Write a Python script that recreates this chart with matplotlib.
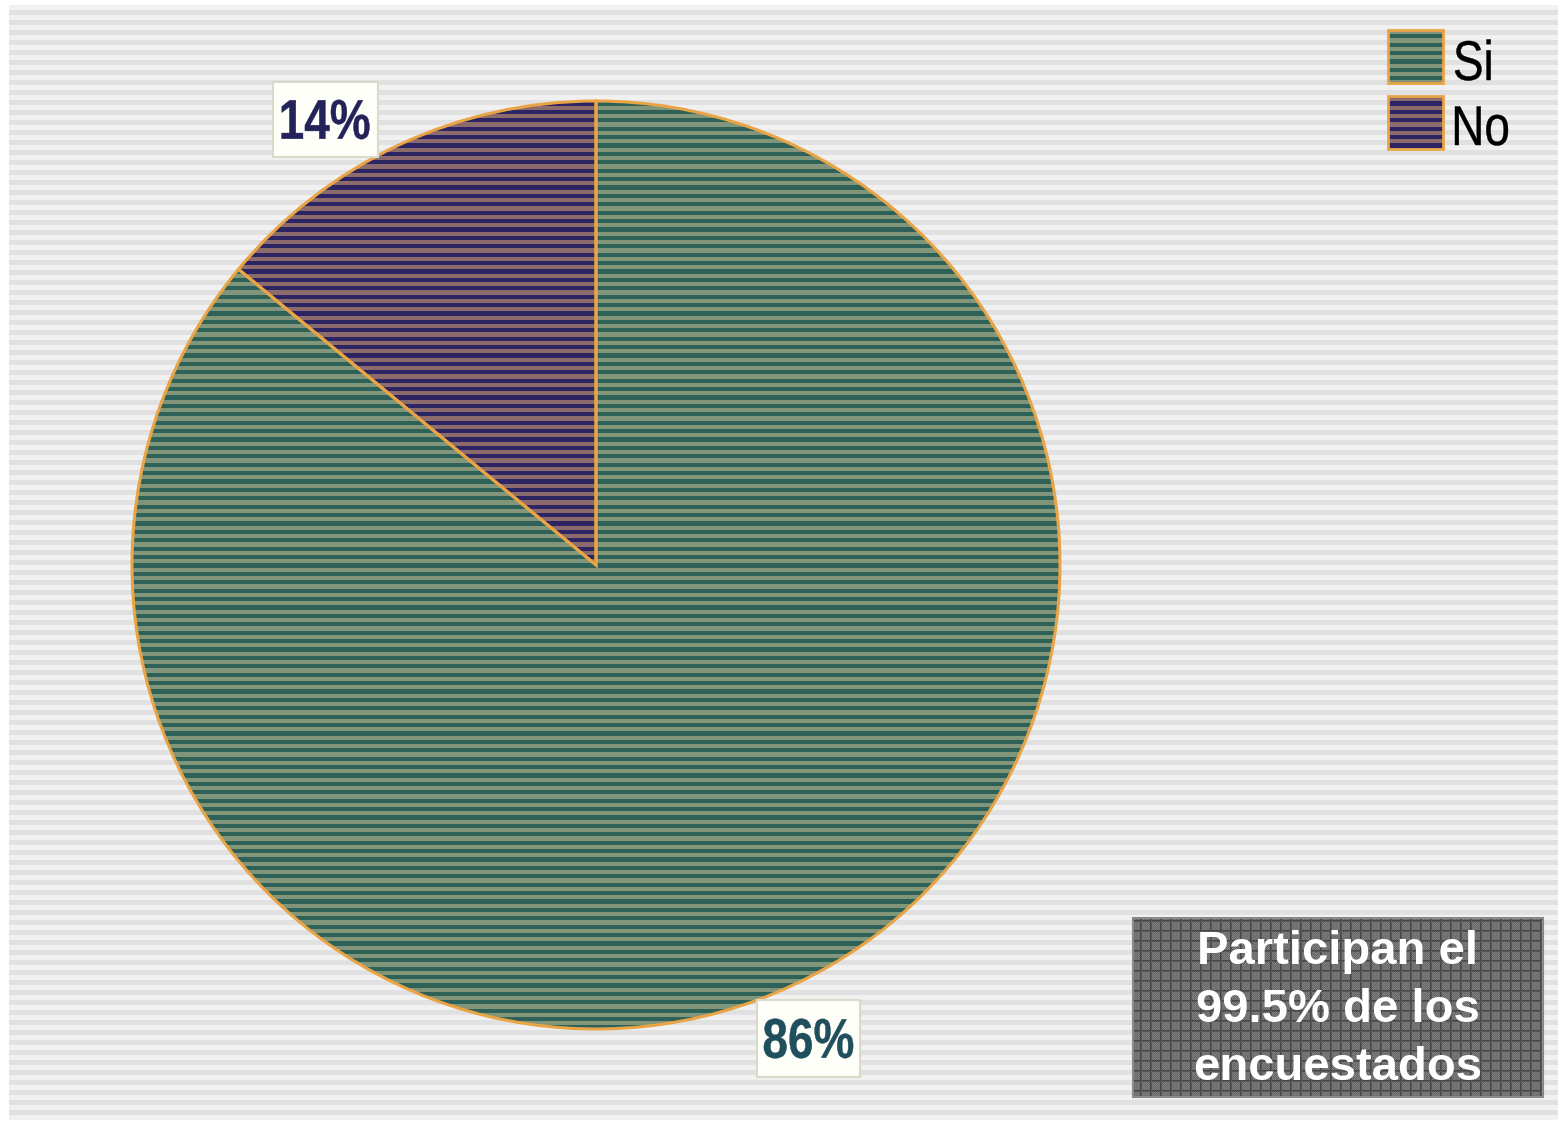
import numpy as np
import matplotlib
matplotlib.use('Agg')
from matplotlib import pyplot as plt
from matplotlib.patches import Rectangle, PathPatch
from matplotlib.textpath import TextPath
from matplotlib.font_manager import FontProperties
from matplotlib.transforms import Affine2D

categorias = ['Si', 'No']
porcentajes = [86, 14]
nota = 'Participan el\n99.5% de los\nencuestados'

W, H = 1558, 1125
borde = '#E9A446'
rayas = {
    'Si': ('#2E6157', '#81957A'),
    'No': ('#2C2463', '#8C6B6C'),
}
color_pct = {'Si': '#1F4E5C', 'No': '#23235A'}


def striped(dark, light, period, height=H):
    # one colour per pixel row, alternating in bands of half a period
    rows = np.arange(height)
    band = (rows % period) < period / 2.0
    img = np.empty((height, 1, 3))
    img[band] = matplotlib.colors.to_rgb(dark)
    img[~band] = matplotlib.colors.to_rgb(light)
    return img


def paint(ax, patch, img, zorder):
    im = ax.imshow(img, extent=(0, W, 0, H), origin='upper', aspect='auto',
                   interpolation='nearest', zorder=zorder)
    im.set_clip_path(patch)
    return im


def narrow_text(ax, x, y, s, size, color, weight='normal', ha='center'):
    # Arial-Narrow look: Liberation Sans squeezed horizontally
    fp = FontProperties(family='Liberation Sans', weight=weight)
    tp = TextPath((0, 0), s, size=size, prop=fp)
    ext = tp.get_extents()
    sx = 0.82
    x0 = x - (ext.x0 + ext.width / 2) * sx if ha == 'center' else x - ext.x0 * sx
    y0 = y - (ext.y0 + ext.height / 2)
    tr = Affine2D().scale(sx, 1).translate(x0, y0)
    p = PathPatch(tr.transform_path(tp), facecolor=color, edgecolor=color,
                  linewidth=0.3, zorder=6)
    ax.add_patch(p)
    return p


fig = plt.figure(figsize=(W / 100, H / 100), dpi=100, facecolor='white')
ax = fig.add_axes([0, 0, 1, 1])

# striped grey panel behind everything
panel = Rectangle((9, 5), W - 9, H - 5 - 5, facecolor='none', edgecolor='none')
ax.add_patch(panel)
paint(ax, panel, striped('#E1E1E1', '#F1F1F1', 10.0), 0)

cx, cy, radio = 596, H - 565, 464
wedges, _ = ax.pie(porcentajes, center=(cx, cy), radius=radio, startangle=90,
                   counterclock=False,
                   wedgeprops=dict(facecolor='none', edgecolor=borde,
                                   linewidth=2.2, zorder=3))
for w, cat in zip(wedges, categorias):
    paint(ax, w, striped(*rayas[cat], 8.4), 2)

# percentage labels in small white boxes
cajas_pct = {'Si': (757, 1000, 103, 77), 'No': (273, 82, 105, 75)}
for cat, val in zip(categorias, porcentajes):
    bx, by, bw, bh = cajas_pct[cat]
    ax.add_patch(Rectangle((bx, H - by - bh), bw, bh, facecolor='#FFFFFA',
                           edgecolor='#DADACB', linewidth=1.5, zorder=5))
    narrow_text(ax, bx + bw / 2, H - by - bh / 2, '%d%%' % val, 56,
                color_pct[cat], weight='bold')

# legend swatches
for i, cat in enumerate(categorias):
    top = 30 + i * 66
    sw = Rectangle((1388, H - top - 53), 55, 53, facecolor='none',
                   edgecolor=borde, linewidth=2.0, zorder=5)
    ax.add_patch(sw)
    paint(ax, sw, striped(*rayas[cat], 8.4), 4)
    narrow_text(ax, 1455, H - top - 30, cat, 56, 'black', ha='left')

# note box with a woven grey texture
nb = Rectangle((1133, H - 1097), 410, 179, facecolor='none',
               edgecolor='#8A8A8A', linewidth=1.5, zorder=5)
ax.add_patch(nb)
yy, xx = np.mgrid[0:H, 0:W]
tex = np.where((xx + yy) % 2 == 0, 0.50, 0.40)
tex[(xx % 10 == 0) | (yy % 10 == 0)] = 0.28
tex[(xx % 10 == 1) | (yy % 10 == 1)] = 0.34
tex = np.dstack([tex, tex, tex])
paint(ax, nb, tex, 4)
ax.text(1338, H - 1010, nota, family=['Liberation Sans', 'DejaVu Sans'],
        fontsize=34, fontweight='bold', color='white', ha='center',
        va='center', linespacing=1.42, zorder=6)

ax.set_xlim(0, W)
ax.set_ylim(0, H)
ax.set_axis_off()

fig.savefig('out.png', dpi=100, facecolor='white')
